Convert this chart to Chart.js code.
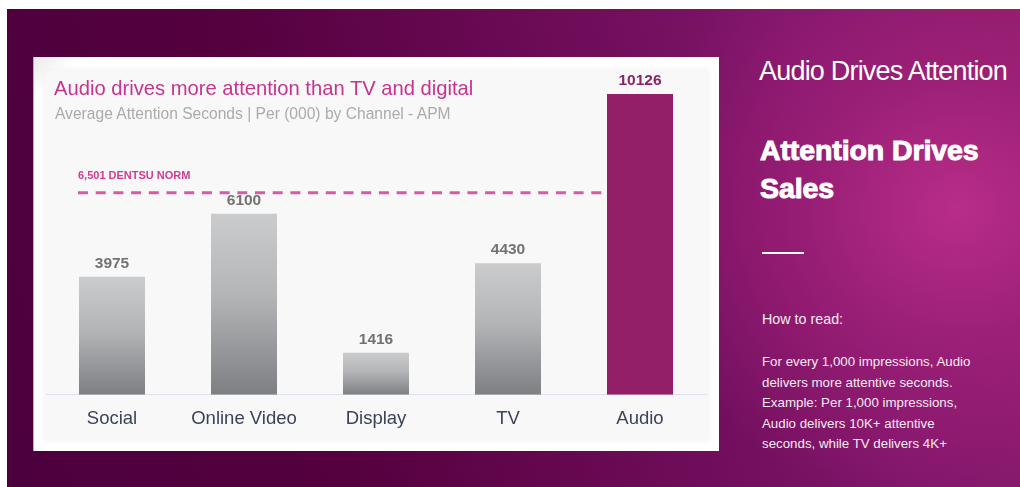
<!DOCTYPE html>
<html>
<head>
<meta charset="utf-8">
<script src="https://cdn.jsdelivr.net/npm/chart.js@4.4.0/dist/chart.umd.min.js"></script>
<style>
  html, body { margin: 0; padding: 0; background: #ffffff; }
  body { width: 1020px; height: 487px; position: relative; overflow: hidden; font-family: "Liberation Sans", Arial, sans-serif; }
  #panel {
    position: absolute; left: 7px; top: 9px; width: 1013px; height: 478px;
    background:
      radial-gradient(ellipse 330px 300px at 950px 200px, rgba(186,46,138,0.95) 0%, rgba(170,36,126,0.6) 45%, rgba(150,28,112,0) 100%),
      linear-gradient(75deg, #4d003e 0%, #55003f 30%, #6a0a55 55%, #80166a 80%, #8a1b6a 100%);
  }
  #card {
    position: absolute; left: 33px; top: 57px; width: 686px; height: 394px;
    background: linear-gradient(135deg, #e9e9e9 0%, #ffffff 4%, #ffffff 100%);
    border-left: 1px solid #b9b3b8; box-sizing: border-box;
  }
  #cardInner {
    position: absolute; left: 12px; top: 14px; right: 12px; bottom: 12px;
    background: #f8f8f8; box-shadow: 0 0 6px 2px #f3f3f3;
  }
  #chartWrap { position: absolute; left: 33px; top: 57px; width: 686px; height: 394px; }
  .t { position: absolute; white-space: nowrap; }
  #title { left: 54px; top: 77px; font-size: 20.2px; color: #c7338e; }
  #sub { left: 55px; top: 105px; font-size: 15.6px; color: #ababab; }
  #h1 { left: 759px; top: 56px; font-size: 27px; color: #fff; letter-spacing: -0.8px; }
  #h2 { left: 760px; top: 131px; font-size: 28.5px; line-height: 38px; color: #fff; font-weight: bold; letter-spacing: -0.1px; -webkit-text-stroke: 1px #fff; }
  #rule { position: absolute; left: 762px; top: 252px; width: 42px; height: 2px; background: #fff; }
  #how { left: 762px; top: 311px; font-size: 14.3px; color: #f4eaf1; }
  #para { left: 762px; top: 352px; font-size: 13.3px; line-height: 20.5px; color: #f4eaf1; }
</style>
</head>
<body>
<div id="panel"></div>
<div id="card"><div id="cardInner"></div></div>
<div id="chartWrap"><canvas id="grafica"></canvas></div>
<div class="t" id="title">Audio drives more attention than TV and digital</div>
<div class="t" id="sub">Average Attention Seconds | Per (000) by Channel - APM</div>
<div class="t" id="h1">Audio Drives Attention</div>
<div class="t" id="h2">Attention Drives<br>Sales</div>
<div id="rule"></div>
<div class="t" id="how">How to read:</div>
<div class="t" id="para">For every 1,000 impressions, Audio<br>delivers more attentive seconds.<br>Example: Per 1,000 impressions,<br>Audio delivers 10K+ attentive<br>seconds, while TV delivers 4K+</div>
<script>
const canales = ['Social', 'Online Video', 'Display', 'TV', 'Audio'];
const segundos = [3975, 6100, 1416, 4430, 10126];
const normaDentsu = 6501;
const etiquetaNorma = '6,501 DENTSU NORM';

const colorAudio = '#931f68';

function colorBarra(context) {
    const chart = context.chart;
    if (canales[context.dataIndex] === 'Audio') return colorAudio;
    const y = chart.scales && chart.scales.y;
    if (!y || !chart.chartArea) return '#a9aaad';
    const top = y.getPixelForValue(segundos[context.dataIndex]);
    const bottom = y.getPixelForValue(0);
    const g = chart.ctx.createLinearGradient(0, top, 0, bottom);
    g.addColorStop(0, '#cbcccd');
    g.addColorStop(0.45, '#b4b5b7');
    g.addColorStop(1, '#7e7f83');
    return g;
}

// linea punteada de la norma + etiqueta
// (en el original la linea esta puesta un poco por encima de su valor, para no pisar la etiqueta de 6100)
const lineaNorma = {
    id: 'lineaNorma',
    beforeDatasetsDraw(chart) {
        const ctx = chart.ctx;
        const y = chart.scales.y.getPixelForValue(normaDentsu) - 9;
        const meta = chart.getDatasetMeta(0);
        const audio = meta.data[canales.indexOf('Audio')];
        const x0 = 45;
        const x1 = audio.x - audio.width / 2;
        ctx.save();
        ctx.strokeStyle = '#d85aa4';
        ctx.lineWidth = 3;
        ctx.setLineDash([10, 7.7]);
        ctx.beginPath();
        ctx.moveTo(x0, y);
        ctx.lineTo(x1, y);
        ctx.stroke();
        ctx.setLineDash([]);
        ctx.fillStyle = '#cf3c92';
        ctx.font = 'bold 11px "Liberation Sans", Arial, sans-serif';
        ctx.textBaseline = 'middle';
        ctx.fillText(etiquetaNorma, x0, y - 17);
        ctx.restore();
    }
};

// valores encima de cada barra
const valoresBarras = {
    id: 'valoresBarras',
    afterDatasetsDraw(chart) {
        const ctx = chart.ctx;
        const meta = chart.getDatasetMeta(0);
        ctx.save();
        ctx.font = 'bold 15.5px "Liberation Sans", Arial, sans-serif';
        ctx.textAlign = 'center';
        ctx.textBaseline = 'alphabetic';
        meta.data.forEach((bar, i) => {
            ctx.fillStyle = canales[i] === 'Audio' ? '#8a2466' : '#727272';
            ctx.fillText(String(segundos[i]), bar.x, bar.y - 9);
        });
        ctx.restore();
    }
};

const ctx = document.getElementById('grafica').getContext('2d');
new Chart(ctx, {
    type: 'bar',
    data: {
        labels: canales,
        datasets: [{
            data: segundos,
            backgroundColor: colorBarra,
            borderWidth: 0,
            barPercentage: 1,
            categoryPercentage: 0.5
        }]
    },
    options: {
        responsive: true,
        maintainAspectRatio: false,
        animation: false,
        layout: { padding: { left: 13, right: 13, top: 26, bottom: 8 } },
        plugins: {
            legend: { display: false },
            tooltip: { enabled: false }
        },
        scales: {
            y: {
                display: false,
                min: 0,
                max: 10500
            },
            x: {
                grid: { display: false, drawTicks: false },
                border: { display: true, color: '#dde3ec', width: 1 },
                ticks: {
                    color: '#3c4257',
                    padding: 13,
                    font: { size: 18.5, family: '"Liberation Sans", Arial, sans-serif' }
                }
            }
        }
    },
    plugins: [lineaNorma, valoresBarras]
});
</script>
</body>
</html>
